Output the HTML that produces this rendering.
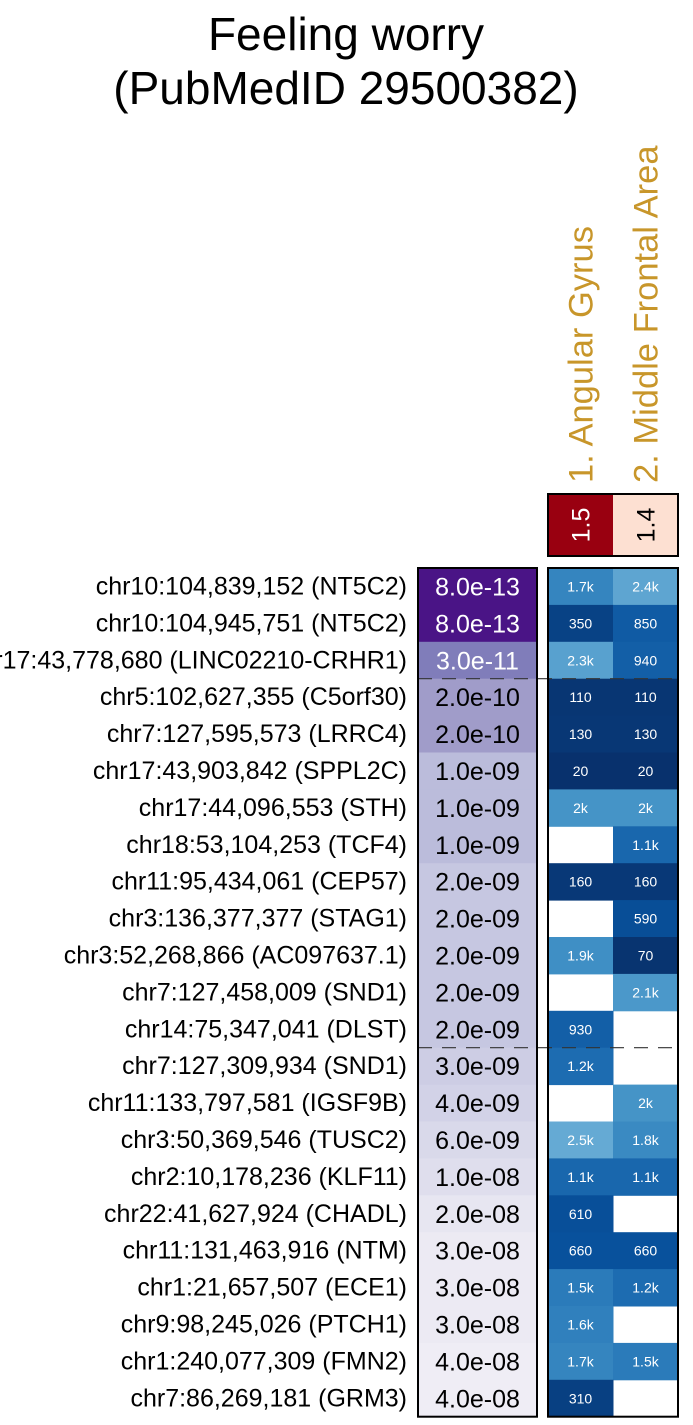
<!DOCTYPE html>
<html><head><meta charset="utf-8"><style>
html,body{margin:0;padding:0;background:#fff;}
svg{display:block;font-family:"Liberation Sans",sans-serif;}
</style></head><body>
<svg id="chart" width="693" height="1425" xmlns="http://www.w3.org/2000/svg">
<text x="346" y="50" font-size="46" text-anchor="middle">Feeling worry</text>
<text x="346" y="104" font-size="46" text-anchor="middle">(PubMedID 29500382)</text>
<g id="g"></g>
</svg>
<script>
const snps = ["chr10:104,839,152 (NT5C2)","chr10:104,945,751 (NT5C2)","chr17:43,778,680 (LINC02210-CRHR1)","chr5:102,627,355 (C5orf30)","chr7:127,595,573 (LRRC4)","chr17:43,903,842 (SPPL2C)","chr17:44,096,553 (STH)","chr18:53,104,253 (TCF4)","chr11:95,434,061 (CEP57)","chr3:136,377,377 (STAG1)","chr3:52,268,866 (AC097637.1)","chr7:127,458,009 (SND1)","chr14:75,347,041 (DLST)","chr7:127,309,934 (SND1)","chr11:133,797,581 (IGSF9B)","chr3:50,369,546 (TUSC2)","chr2:10,178,236 (KLF11)","chr22:41,627,924 (CHADL)","chr11:131,463,916 (NTM)","chr1:21,657,507 (ECE1)","chr9:98,245,026 (PTCH1)","chr1:240,077,309 (FMN2)","chr7:86,269,181 (GRM3)"];
const pvals = [8e-13,8e-13,3e-11,2e-10,2e-10,1e-9,1e-9,1e-9,2e-9,2e-9,2e-9,2e-9,2e-9,3e-9,4e-9,6e-9,1e-8,2e-8,3e-8,3e-8,3e-8,4e-8,4e-8];
const tissues = ["1. Angular Gyrus","2. Middle Frontal Area"];
const tissueScores = [1.5,1.4];
const col1 = [1700,350,2300,110,130,20,2000,null,160,null,1900,null,930,1200,null,2500,1100,610,660,1500,1600,1700,310];
const col2 = [2400,850,940,110,130,20,2000,1100,160,590,70,2100,null,null,2000,1800,1100,null,660,1200,null,1500,null];
const dashAfter = [3,13];

const g=document.getElementById('g');
const NS="http://www.w3.org/2000/svg";
function el(t,a,txt){const e=document.createElementNS(NS,t);for(const k in a)e.setAttribute(k,a[k]);if(txt!==undefined)e.textContent=txt;g.appendChild(e);return e;}
const top0=568, rowH=36.9, pX=418, pW=119, hX=548, cW=65;
const yAt=i=>top0+i*rowH;
function lerp(a,b,t){return a.map((v,i)=>Math.round(v+(b[i]-v)*t));}
function scale(stops,t){t=Math.max(0,Math.min(1,t));const n=stops.length-1;const i=Math.min(n-1,Math.floor(t*n));const c=lerp(stops[i],stops[i+1],t*n-i);return `rgb(${c})`;}
const purp=[[74,20,134],[106,81,163],[128,125,186],[158,154,200],[188,189,220],[218,218,235],[239,237,245]];
function pColor(p){const t=(Math.log10(p)+12.1)/(12.1-7.4);return scale(purp,t);}
const blues=[[8,48,107],[8,81,156],[33,113,181],[66,146,198],[107,174,214]];
function bColor(v){return scale(blues,v/2600);}
function fmtV(v){return v>=1000?((v/1000)%1===0?(v/1000)+"k":(v/1000).toFixed(1)+"k"):String(v);}
function fmtP(p){const e=Math.floor(Math.log10(p)+1e-9);const m=p/Math.pow(10,e);return m.toFixed(1)+"e-"+String(-e).padStart(2,"0");}

snps.forEach((s,i)=>{const y=yAt(i);
 const t=el('text',{x:407,y:y+rowH/2+8,'font-size':25,'text-anchor':'end'},s);
 
 const r=el('rect',{x:pX,y:y,width:pW,height:rowH+0.5,fill:pColor(pvals[i])});
 
 const pt=el('text',{x:pX+pW/2,y:y+rowH/2+9,'font-size':25,'text-anchor':'middle',fill:pvals[i]<1e-10?'#fff':'#000'},fmtP(pvals[i]));
 
 [col1,col2].forEach((col,j)=>{const v=col[i];if(v===null)return;
  const c=el('rect',{x:hX+j*cW,y:y,width:cW+0.5,height:rowH+0.5,fill:bColor(v)});
  
  const ct=el('text',{x:hX+j*cW+cW/2,y:y+rowH/2+5,'font-size':14,'text-anchor':'middle',fill:'#fff'},fmtV(v));
  
 });
});
dashAfter.forEach(k=>{const y=yAt(k);
 const d=el('line',{x1:pX,x2:hX+2*cW,y1:y,y2:y,stroke:'#333','stroke-width':1.2,'stroke-dasharray':'14,10'});
 });
const b1=el('rect',{x:pX,y:top0,width:pW,height:23*rowH,fill:'none',stroke:'#000','stroke-width':2});

const b2=el('rect',{x:hX,y:top0,width:2*cW,height:23*rowH,fill:'none',stroke:'#000','stroke-width':2});

const sc=['#990010','#fde0d2'];
tissues.forEach((n,j)=>{
 const r=el('rect',{x:hX+j*cW,y:494,width:cW,height:62,fill:sc[j]});
 
 const cx=hX+j*cW+cW/2;
 const t=el('text',{x:cx+9,y:525,'font-size':25,'text-anchor':'middle',fill:j===0?'#fff':'#000',transform:`rotate(-90 ${cx+9} 525)`},tissueScores[j].toFixed(1));
 
 const l=el('text',{x:cx+12,y:483,'font-size':34.5,fill:'#c8962a',transform:`rotate(-90 ${cx+12} 483)`},n);
 
});
const b3=el('rect',{x:hX,y:494,width:2*cW,height:62,fill:'none',stroke:'#000','stroke-width':2});

</script>
</body></html>
